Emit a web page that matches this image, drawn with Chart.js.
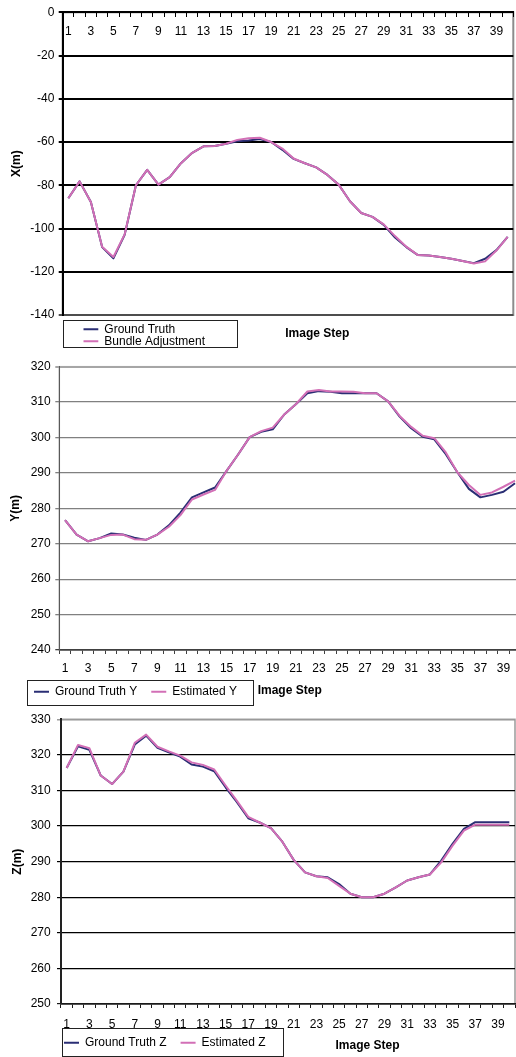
<!DOCTYPE html>
<html>
<head>
<meta charset="utf-8">
<script src="https://cdn.jsdelivr.net/npm/chart.js@4/dist/chart.umd.min.js"></script>
<style>
  html, body { margin: 0; padding: 0; background: #fff; width: 516px; height: 1057px; overflow: hidden; }
  canvas { position: absolute; left: 0; }
  #chartX { top: 0; }
  #chartY { top: 352px; }
  #chartZ { top: 704px; }
</style>
</head>
<body>
<canvas id="chartX" width="516" height="352"></canvas>
<canvas id="chartY" width="522" height="364"></canvas>
<canvas id="chartZ" width="516" height="366"></canvas>
<script>
// Image steps along the trajectory
const steps = [1, 2, 3, 4, 5, 6, 7, 8, 9, 10, 11, 12, 13, 14, 15, 16, 17, 18, 19, 20,
               21, 22, 23, 24, 25, 26, 27, 28, 29, 30, 31, 32, 33, 34, 35, 36, 37, 38, 39, 40];

// X position (m)
const xTruth = [-86.0, -78.2, -87.7, -108.6, -113.8, -102.9, -80.0, -72.9, -79.7, -76.2,
                -69.8, -65.0, -62.0, -61.8, -60.8, -59.6, -59.3, -58.6, -60.0, -63.6,
                -67.8, -69.8, -71.7, -75.2, -79.7, -87.4, -92.8, -94.6, -98.3, -104.2,
                -108.6, -112.2, -112.5, -113.2, -114.0, -115.0, -116.0, -114.0, -110.0, -103.9];
const xBundle = [-86.0, -78.2, -87.7, -108.4, -113.2, -102.7, -80.0, -72.9, -79.7, -76.2,
                 -69.8, -65.0, -62.0, -61.8, -60.8, -59.0, -58.2, -58.0, -60.0, -63.0,
                 -67.6, -69.8, -71.7, -75.2, -79.7, -87.4, -92.8, -94.6, -98.1, -103.5,
                 -108.4, -112.2, -112.5, -113.2, -114.0, -115.0, -116.2, -115.2, -110.2, -103.9];

// Y position (m)
const yTruth = [276.7, 272.6, 270.7, 271.6, 272.9, 272.6, 271.7, 271.1, 272.6, 275.2,
                278.8, 283.1, 284.5, 285.9, 290.6, 295.2, 300.1, 301.6, 302.3, 306.5,
                309.4, 312.5, 313.1, 312.9, 312.5, 312.5, 312.5, 312.5, 310.2, 305.9,
                302.6, 300.2, 299.5, 295.3, 290.2, 285.5, 283.1, 283.8, 284.7, 287.1];
const yEstimated = [276.7, 272.6, 270.7, 271.6, 272.5, 272.6, 271.3, 271.1, 272.6, 274.8,
                    278.1, 282.5, 283.9, 285.2, 290.6, 295.2, 300.1, 301.8, 302.8, 306.5,
                    309.4, 313.0, 313.4, 313.0, 313.0, 312.9, 312.5, 312.5, 310.2, 306.1,
                    303.0, 300.5, 299.8, 295.8, 290.2, 286.6, 283.8, 284.5, 286.1, 287.8];

// Z position (m)
const zTruth = [316.3, 322.4, 321.4, 314.2, 311.8, 315.3, 322.9, 325.4, 322.0, 320.7,
                319.5, 317.3, 316.7, 315.4, 310.9, 306.7, 302.2, 301.0, 299.4, 295.6,
                290.5, 287.0, 285.9, 285.6, 283.7, 281.0, 280.0, 280.0, 281.0, 282.8,
                284.7, 285.6, 286.4, 290.3, 295.0, 299.2, 301.1, 301.1, 301.1, 301.1];
const zEstimated = [316.3, 322.8, 321.9, 314.2, 311.8, 315.3, 323.4, 325.7, 322.3, 321.0,
                    319.8, 317.9, 317.2, 315.9, 311.4, 307.1, 302.6, 301.0, 299.4, 295.6,
                    290.5, 287.0, 285.9, 285.4, 283.2, 281.0, 280.0, 280.0, 281.0, 282.8,
                    284.7, 285.6, 286.4, 289.8, 294.5, 298.7, 300.4, 300.4, 300.4, 300.4];

const NAVY = '#2a2e74';
const PINK = '#d26fb6';

Chart.defaults.font.family = "'Liberation Sans', Arial, sans-serif";
Chart.defaults.font.size = 12;
Chart.defaults.color = '#000';

// Places the legend, frames it, draws the plot border and the step caption.
const panelPlugin = {
  id: 'panel',
  afterLayout(chart, args, opts) {
    const lg = chart.legend;
    if (!lg || !opts.legendAt) return;
    const pad = lg.options.labels.padding;
    lg.left = opts.legendAt.x - pad;
    lg.top = opts.legendAt.y - pad;
    lg.width = 400;
    lg.height = 200;
    lg.right = lg.left + lg.width;
    lg.bottom = lg.top + lg.height;
  },
  beforeDraw(chart, args, opts) {
    const { ctx, chartArea: a } = chart;
    ctx.save();
    ctx.strokeStyle = opts.borderColor;
    ctx.lineWidth = opts.borderWidth;
    ctx.strokeRect(a.left, a.top, a.width, a.height);
    ctx.restore();
  },
  afterDraw(chart, args, opts) {
    const ctx = chart.ctx;
    const f = opts.frame;
    ctx.save();
    ctx.strokeStyle = '#222';
    ctx.lineWidth = 1;
    ctx.strokeRect(Math.round(f.x) + 0.5, Math.round(f.y) + 0.5, Math.round(f.w), Math.round(f.h));
    const t = chart.options.scales.x.title;
    ctx.font = "bold 12px 'Liberation Sans', Arial, sans-serif";
    ctx.fillStyle = '#000';
    ctx.textAlign = 'center';
    ctx.textBaseline = 'middle';
    ctx.fillText(t.text, opts.caption.x, opts.caption.y);
    ctx.restore();
  }
};

function buildPanel(id, o) {
  const gridColor = (c) => {
    if (!c.tick) return o.gridColor;
    if (c.tick.value === o.max) return o.topColor;
    if (c.tick.value === o.min) return o.minColor;
    return o.gridColor;
  };
  const gridWidth = (c) => {
    if (!c.tick) return o.gridWidth;
    if (c.tick.value === o.max) return o.topWidth;
    return o.gridWidth;
  };
  return new Chart(document.getElementById(id), {
    type: 'line',
    data: {
      labels: steps,
      datasets: [
        { label: o.names[0], data: o.truth, borderColor: NAVY, backgroundColor: NAVY,
          borderWidth: 2, pointRadius: 0, tension: 0, borderJoinStyle: 'round', order: 1 },
        { label: o.names[1], data: o.estimate, borderColor: PINK, backgroundColor: PINK,
          borderWidth: 2, pointRadius: 0, tension: 0, borderJoinStyle: 'round', order: 0 }
      ]
    },
    options: {
      responsive: false,
      animation: false,
      devicePixelRatio: 1,
      events: [],
      layout: { padding: o.pad },
      plugins: {
        legend: {
          position: o.legendPos,
          align: 'start',
          labels: {
            usePointStyle: true,
            pointStyle: 'line',
            pointStyleWidth: 15,
            padding: o.legendGap,
            color: '#000',
            font: { size: 12 },
            sort: (a, b) => a.datasetIndex - b.datasetIndex
          }
        },
        tooltip: { enabled: false },
        panel: {
          legendAt: o.legendAt,
          frame: o.frame,
          caption: o.caption,
          borderColor: o.frameColor,
          borderWidth: o.frameWidth
        }
      },
      scales: {
        x: {
          type: 'category',
          axis: 'x',
          position: o.xPos,
          offset: true,
          grid: { display: true, drawOnChartArea: false, drawTicks: true, tickLength: 4,
                  offset: true, color: o.xColor, lineWidth: 1 },
          border: { display: true, color: o.xColor, width: o.xWidth },
          ticks: {
            autoSkip: false, maxRotation: 0, minRotation: 0, padding: o.xPad,
            color: '#000', font: { size: 12 },
            callback(v, i) { return i % 2 === 0 ? this.getLabelForValue(v) : ''; }
          },
          title: { display: false, text: 'Image Step' },
          afterFit(s) {
            s.paddingLeft = 0;
            s.paddingRight = 0;
            if (o.xHeight !== undefined) s.height = o.xHeight;
          }
        },
        y: {
          min: o.min,
          max: o.max,
          ticks: { stepSize: o.step, padding: o.yPad, color: '#000', font: { size: 12 } },
          grid: { color: gridColor, lineWidth: gridWidth, tickLength: 4 },
          border: { display: true, color: o.yColor, width: o.yWidth },
          title: { display: true, text: o.yTitle, color: '#000',
                   font: { size: 12, weight: 'bold' }, padding: { top: o.yTitlePad, bottom: 0 } },
          afterFit(s) { s.width = o.plotLeft; }
        }
      }
    },
    plugins: [panelPlugin]
  });
}

// X: category axis crosses at 0, so its labels sit along the top
buildPanel('chartX', {
  names: ['Ground Truth', 'Bundle Adjustment'],
  truth: xTruth, estimate: xBundle,
  min: -140, max: 0, step: 20,
  yTitle: 'X(m)', yTitlePad: 9.5, yPad: 4.4, plotLeft: 62.7,
  pad: { left: 0, top: 12.3, right: 2.7, bottom: 37 },
  xPos: { y: 0 }, xPad: 8.5, xColor: '#000', xWidth: 2,
  yColor: '#000', yWidth: 2,
  gridColor: '#000', gridWidth: 2, topColor: '#000', topWidth: 2, minColor: '#4d4d4d',
  frameColor: '#8c8c8c', frameWidth: 2,
  legendPos: 'chartArea', legendGap: 0, legendAt: { x: 83.3, y: 323.3 },
  frame: { x: 63.3, y: 320, w: 174, h: 26.7 },
  caption: { x: 317.3, y: 334 }
});

buildPanel('chartY', {
  names: ['Ground Truth Y', 'Estimated Y'],
  truth: yTruth, estimate: yEstimated,
  min: 240, max: 320, step: 10,
  yTitle: 'Y(m)', yTitlePad: 8.8, yPad: 4.6, plotLeft: 59.3,
  pad: { left: 0, top: 14.7, right: 1.2, bottom: 0 },
  xPos: 'bottom', xPad: 7.8, xHeight: 30, xColor: '#404040', xWidth: 1.5,
  yColor: '#595959', yWidth: 1,
  gridColor: '#808080', gridWidth: 1.3, topColor: '#a6a6a6', topWidth: 2, minColor: '#404040',
  frameColor: '#a6a6a6', frameWidth: 1.5,
  legendPos: 'bottom', legendGap: 14, legendAt: { x: 34, y: 333.7 },
  frame: { x: 27.3, y: 328, w: 226.4, h: 25 },
  caption: { x: 289.7, y: 338.7 }
});

buildPanel('chartZ', {
  names: ['Ground Truth Z', 'Estimated Z'],
  truth: zTruth, estimate: zEstimated,
  min: 250, max: 330, step: 10,
  yTitle: 'Z(m)', yTitlePad: 10.8, yPad: 6.3, plotLeft: 61,
  pad: { left: 0, top: 15.3, right: 1, bottom: 0 },
  xPos: 'bottom', xPad: 9.1, xHeight: 30, xColor: '#1a1a1a', xWidth: 1.5,
  yColor: '#222', yWidth: 2,
  gridColor: '#000', gridWidth: 1.2, topColor: '#9a9a9a', topWidth: 1.5, minColor: '#1a1a1a',
  frameColor: '#9a9a9a', frameWidth: 1.5,
  legendPos: 'bottom', legendGap: 14, legendAt: { x: 64, y: 332.7 },
  frame: { x: 61.7, y: 324.3, w: 221, h: 27.7 },
  caption: { x: 367.5, y: 341.7 }
});
</script>
</body>
</html>
